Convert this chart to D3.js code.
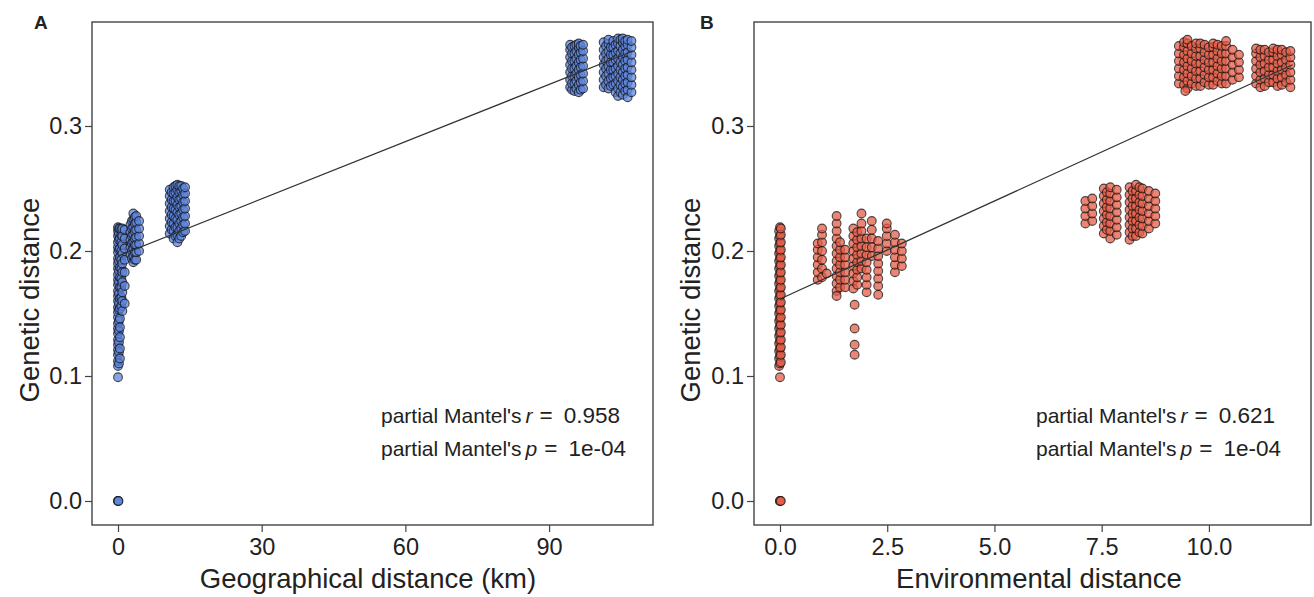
<!DOCTYPE html>
<html>
<head>
<meta charset="utf-8">
<script src="https://cdn.jsdelivr.net/npm/d3@7"></script>
<style>
  body { margin: 0; background: #fff; }
  text { font-family: "Liberation Sans", Arial, sans-serif; fill: #222; }
</style>
</head>
<body>
<div id="chart"></div>
<script>
// Figure size
var svgWidth = 1314;
var svgHeight = 597;

// Tick labels
var yTicks = [0, 0.1, 0.2, 0.3];
var geoTicks = [0, 30, 60, 90];
var envTicks = [0, 2.5, 5, 7.5, 10];

// Panel A: geographical distance (km) vs genetic distance, read column by column
// each entry: [x, [y values stacked at that x]]
var geoNear = [
  [0.0, [0.108, 0.112, 0.117, 0.121, 0.125, 0.129, 0.134, 0.138, 0.142, 0.147, 0.151, 0.155, 0.160, 0.164, 0.168, 0.173, 0.177, 0.181, 0.186, 0.190, 0.194, 0.199, 0.203, 0.207, 0.212, 0.216, 0.219]],
  [0.2, [0.110, 0.119, 0.127, 0.136, 0.144, 0.153, 0.158, 0.166, 0.175, 0.184, 0.192, 0.201, 0.209, 0.214, 0.218]],
  [0.4, [0.114, 0.122, 0.131, 0.139, 0.146, 0.154, 0.162, 0.171, 0.179, 0.187, 0.195, 0.202, 0.210, 0.218]],
  [0.7, [0.156, 0.163, 0.171, 0.178, 0.186, 0.193, 0.200, 0.207, 0.213, 0.217]],
  [0.9, [0.152, 0.160, 0.167, 0.175, 0.183, 0.190, 0.198, 0.205, 0.212, 0.218]],
  [1.4, [0.158, 0.172, 0.183, 0.193, 0.202, 0.210, 0.217]]
];
var geoNear2 = [
  [2.6, [0.197, 0.203, 0.209, 0.215, 0.221]],
  [2.9, [0.194, 0.200, 0.206, 0.212, 0.218, 0.224]],
  [3.2, [0.191, 0.196, 0.202, 0.207, 0.213, 0.219, 0.225, 0.230]],
  [3.5, [0.193, 0.199, 0.205, 0.210, 0.216, 0.222, 0.227]],
  [3.8, [0.193, 0.199, 0.205, 0.211, 0.217, 0.223, 0.228]],
  [4.4, [0.200, 0.206, 0.212, 0.218, 0.224]]
];
var geoMid = [
  [10.8, [0.214, 0.220, 0.226, 0.232, 0.238, 0.244, 0.249]],
  [11.2, [0.217, 0.223, 0.229, 0.235, 0.241, 0.247]],
  [11.6, [0.210, 0.216, 0.222, 0.228, 0.234, 0.240, 0.246, 0.251]],
  [12.0, [0.212, 0.219, 0.226, 0.233, 0.240, 0.247, 0.252]],
  [12.4, [0.207, 0.213, 0.219, 0.225, 0.231, 0.237, 0.243, 0.249, 0.253]],
  [12.8, [0.210, 0.216, 0.222, 0.229, 0.235, 0.241, 0.247, 0.252]],
  [13.2, [0.212, 0.218, 0.224, 0.230, 0.236, 0.242, 0.248, 0.252]],
  [13.6, [0.215, 0.221, 0.227, 0.233, 0.239, 0.245, 0.250]],
  [14.0, [0.216, 0.222, 0.228, 0.234, 0.240, 0.246, 0.251]]
];
var geoFar1 = [
  [94.4, [0.331, 0.337, 0.343, 0.349, 0.355, 0.361, 0.365]],
  [94.8, [0.329, 0.334, 0.340, 0.346, 0.352, 0.358, 0.363]],
  [95.3, [0.328, 0.334, 0.340, 0.346, 0.352, 0.358, 0.364]],
  [95.7, [0.330, 0.336, 0.342, 0.348, 0.354, 0.360, 0.365]],
  [96.2, [0.327, 0.333, 0.339, 0.345, 0.351, 0.357, 0.363, 0.366]],
  [96.6, [0.329, 0.335, 0.341, 0.347, 0.353, 0.359, 0.364]],
  [97.1, [0.330, 0.336, 0.342, 0.348, 0.354, 0.360, 0.365]]
];
var geoFar2 = [
  [101.4, [0.331, 0.337, 0.343, 0.349, 0.355, 0.361, 0.367]],
  [101.9, [0.333, 0.340, 0.346, 0.352, 0.358, 0.364]],
  [102.4, [0.330, 0.336, 0.342, 0.348, 0.354, 0.360, 0.366, 0.369]],
  [102.9, [0.332, 0.338, 0.345, 0.351, 0.357, 0.363]],
  [103.4, [0.333, 0.339, 0.345, 0.351, 0.357, 0.363, 0.368]],
  [103.9, [0.327, 0.334, 0.340, 0.346, 0.353, 0.359, 0.365]],
  [104.4, [0.324, 0.330, 0.336, 0.342, 0.348, 0.354, 0.360, 0.366, 0.370]],
  [104.9, [0.327, 0.333, 0.339, 0.345, 0.351, 0.358, 0.364, 0.369]],
  [105.4, [0.325, 0.331, 0.337, 0.343, 0.349, 0.355, 0.361, 0.367, 0.370]],
  [105.9, [0.328, 0.334, 0.340, 0.346, 0.352, 0.358, 0.364, 0.368]],
  [106.4, [0.323, 0.329, 0.335, 0.341, 0.347, 0.353, 0.359, 0.365, 0.369]],
  [107.2, [0.327, 0.333, 0.339, 0.345, 0.351, 0.357, 0.363, 0.368]]
];
var geoSingles = [[0.0, 0.099], [0.0, 0.0], [0.0, 0.0], [0.1, 0.0]];
var geoFit = [[0, 0.196], [107.3, 0.3596]];

// Panel B: environmental distance vs genetic distance
var envZero = [
  [-0.02, [0.108, 0.114, 0.120, 0.126, 0.132, 0.138, 0.144, 0.150, 0.156, 0.162, 0.168, 0.174, 0.180, 0.186, 0.192, 0.198, 0.204, 0.210, 0.216]],
  [0.0, [0.110, 0.116, 0.122, 0.128, 0.134, 0.140, 0.146, 0.152, 0.158, 0.164, 0.170, 0.176, 0.182, 0.188, 0.194, 0.200, 0.206, 0.212, 0.219]],
  [0.02, [0.111, 0.117, 0.123, 0.129, 0.135, 0.141, 0.147, 0.153, 0.159, 0.165, 0.171, 0.177, 0.183, 0.189, 0.195, 0.201, 0.207, 0.213, 0.218]]
];
var envLow = [
  [0.88, [0.177, 0.183, 0.189, 0.195, 0.201, 0.206]],
  [0.98, [0.179, 0.186, 0.193, 0.200, 0.207, 0.213, 0.218]],
  [1.32, [0.168, 0.174, 0.180, 0.186, 0.192, 0.198, 0.204, 0.210, 0.216, 0.222, 0.228]],
  [1.40, [0.171, 0.177, 0.183, 0.189, 0.195, 0.201, 0.207]],
  [1.52, [0.171, 0.177, 0.183, 0.189, 0.195, 0.201]],
  [1.71, [0.170, 0.176, 0.182, 0.188, 0.194, 0.200, 0.206, 0.212, 0.218]],
  [1.80, [0.173, 0.179, 0.185, 0.191, 0.197, 0.203, 0.209, 0.215]],
  [1.90, [0.186, 0.192, 0.198, 0.204, 0.210, 0.216, 0.222]],
  [2.02, [0.167, 0.173, 0.179, 0.185, 0.191, 0.197, 0.203, 0.210]],
  [2.14, [0.196, 0.203, 0.210, 0.217, 0.224]],
  [2.29, [0.172, 0.178, 0.184, 0.190, 0.196, 0.202, 0.208]],
  [2.49, [0.200, 0.206, 0.212, 0.218, 0.222]],
  [2.68, [0.183, 0.189, 0.195, 0.201, 0.207, 0.213]],
  [2.84, [0.188, 0.194, 0.200, 0.206]]
];
var envMid = [
  [7.12, [0.222, 0.228, 0.234, 0.240]],
  [7.28, [0.224, 0.230, 0.236, 0.242]],
  [7.55, [0.214, 0.220, 0.226, 0.232, 0.238, 0.244, 0.250]],
  [7.62, [0.217, 0.223, 0.229, 0.235, 0.241, 0.247]],
  [7.70, [0.210, 0.216, 0.222, 0.228, 0.234, 0.240, 0.246, 0.251]],
  [7.85, [0.213, 0.219, 0.225, 0.231, 0.237, 0.243, 0.249]],
  [8.15, [0.209, 0.215, 0.221, 0.227, 0.233, 0.239, 0.245, 0.251]],
  [8.22, [0.212, 0.218, 0.224, 0.230, 0.236, 0.242, 0.248]],
  [8.30, [0.212, 0.218, 0.224, 0.230, 0.236, 0.242, 0.248, 0.253]],
  [8.38, [0.215, 0.221, 0.227, 0.233, 0.239, 0.245, 0.251]],
  [8.45, [0.214, 0.220, 0.226, 0.232, 0.238, 0.244, 0.250]],
  [8.60, [0.218, 0.224, 0.230, 0.236, 0.242, 0.248]],
  [8.75, [0.222, 0.228, 0.234, 0.240, 0.246]]
];
var envFar1 = [
  [9.30, [0.334, 0.340, 0.346, 0.352, 0.358, 0.364]],
  [9.42, [0.333, 0.339, 0.345, 0.351, 0.357, 0.363, 0.367]],
  [9.50, [0.330, 0.336, 0.342, 0.348, 0.354, 0.360, 0.366, 0.369]],
  [9.60, [0.334, 0.340, 0.346, 0.352, 0.358, 0.364]],
  [9.70, [0.332, 0.338, 0.344, 0.350, 0.356, 0.362, 0.366]],
  [9.80, [0.332, 0.338, 0.344, 0.350, 0.356, 0.362, 0.366]],
  [9.90, [0.335, 0.341, 0.347, 0.353, 0.359, 0.365]],
  [10.00, [0.333, 0.339, 0.345, 0.351, 0.357, 0.363]],
  [10.10, [0.333, 0.339, 0.345, 0.351, 0.357, 0.363, 0.366]],
  [10.20, [0.336, 0.342, 0.348, 0.354, 0.360, 0.365]],
  [10.30, [0.334, 0.340, 0.346, 0.352, 0.358, 0.364]],
  [10.40, [0.334, 0.340, 0.346, 0.352, 0.358, 0.364, 0.368]],
  [10.55, [0.337, 0.343, 0.349, 0.355, 0.361]],
  [10.70, [0.339, 0.345, 0.351, 0.357]]
];
var envFar2 = [
  [11.10, [0.334, 0.340, 0.346, 0.352, 0.358, 0.362]],
  [11.20, [0.331, 0.337, 0.343, 0.349, 0.355, 0.361]],
  [11.30, [0.332, 0.338, 0.344, 0.350, 0.356, 0.361]],
  [11.40, [0.335, 0.341, 0.347, 0.353, 0.359]],
  [11.50, [0.335, 0.341, 0.347, 0.353, 0.359, 0.362]],
  [11.60, [0.332, 0.338, 0.344, 0.350, 0.356, 0.361]],
  [11.70, [0.333, 0.339, 0.345, 0.351, 0.357, 0.361]],
  [11.80, [0.335, 0.341, 0.347, 0.353, 0.359]],
  [11.90, [0.331, 0.337, 0.343, 0.349, 0.355, 0.360]]
];
var envSingles = [[0.0, 0.099], [1.09, 0.182], [1.32, 0.164], [1.74, 0.157], [1.74, 0.138],
  [1.74, 0.125], [1.74, 0.117], [1.90, 0.230], [2.29, 0.165], [9.45, 0.328], [0.0, 0.0], [0.0, 0.0], [0.02, 0.0]];
var envFit = [[0, 0.1616], [11.95, 0.349]];

// turn [x, [ys]] columns into flat points
function flatten(cols) {
  return cols.flatMap(c => c[1].map(y => [c[0], y]));
}

var svg = d3.select("#chart")
  .append("svg")
  .attr("width", svgWidth)
  .attr("height", svgHeight);

function drawPanel(opt) {
  var g = svg.append("g");
  var x = d3.scaleLinear().domain(opt.xDomain).range([opt.left, opt.left + opt.width]);
  var y = d3.scaleLinear().domain([-0.0192, 0.3832]).range([opt.top + opt.height, opt.top]);

  // axes (box is drawn separately, so drop the domain lines)
  var yAxis = g.append("g")
    .attr("transform", `translate(${opt.left},0)`)
    .call(d3.axisLeft(y).tickValues(yTicks).tickFormat(d3.format(".1f")).tickSize(7).tickPadding(3));
  var xAxis = g.append("g")
    .attr("transform", `translate(0,${opt.top + opt.height})`)
    .call(d3.axisBottom(x).tickValues(opt.ticks).tickFormat(opt.fmt).tickSize(7).tickPadding(6));
  [yAxis, xAxis].forEach(a => {
    a.select(".domain").remove();
    a.selectAll(".tick line").attr("stroke", "#444").attr("stroke-width", 1.2);
    a.selectAll(".tick text").style("font-size", "23.5px").attr("fill", "#222")
      .style("font-family", "'Liberation Sans', Arial, sans-serif");
  });

  // points
  g.append("g").selectAll("circle").data(opt.points).enter().append("circle")
    .attr("cx", d => x(d[0]))
    .attr("cy", d => y(d[1]))
    .attr("r", 4.4)
    .attr("fill", opt.color)
    .attr("fill-opacity", 0.75)
    .attr("stroke", "#111")
    .attr("stroke-opacity", 0.72)
    .attr("stroke-width", 1.1);

  // regression line
  g.append("path")
    .datum(opt.fit)
    .attr("d", d3.line().x(d => x(d[0])).y(d => y(d[1])))
    .attr("fill", "none")
    .attr("stroke", "#333")
    .attr("stroke-width", 1.3);

  // box
  g.append("rect")
    .attr("x", opt.left).attr("y", opt.top)
    .attr("width", opt.width).attr("height", opt.height)
    .attr("fill", "none").attr("stroke", "#444").attr("stroke-width", 1.4);

  // titles
  g.append("text")
    .attr("transform", `translate(${opt.yTitleX},300) rotate(-90)`)
    .attr("text-anchor", "middle")
    .attr("dy", "0.35em")
    .style("font-size", "27.5px")
    .text("Genetic distance");
  g.append("text")
    .attr("x", opt.xTitleX).attr("y", 588)
    .attr("text-anchor", "middle")
    .style("font-size", "27.5px")
    .text(opt.xTitle);

  g.append("text")
    .attr("x", opt.labelX).attr("y", 29)
    .style("font-size", "19px").style("font-weight", "bold")
    .text(opt.label);

  // Mantel annotation
  var lines = [["r", opt.r], ["p", "1e-04"]];
  lines.forEach((l, i) => {
    var t = g.append("text")
      .attr("x", opt.annX).attr("y", 423 + i * 33)
      .style("font-size", "21px");
    t.append("tspan").text("partial Mantel's");
    t.append("tspan").attr("dx", 4).style("font-style", "italic").text(l[0]);
    t.append("tspan").attr("dx", 7).style("font-size", "22.5px").text("=");
    t.append("tspan").attr("dx", 11).style("font-size", "22.5px").text(l[1]);
  });
}

drawPanel({
  left: 92, top: 22, width: 561, height: 503,
  xDomain: [-5.43, 111.7], ticks: geoTicks, fmt: d3.format("d"),
  points: flatten(geoNear).concat(flatten(geoNear2), flatten(geoMid), flatten(geoFar1), flatten(geoFar2), geoSingles),
  fit: geoFit, color: "#5f86dc",
  yTitleX: 29, xTitleX: 368, xTitle: "Geographical distance (km)",
  label: "A", labelX: 34, annX: 381, r: "0.958"
});

drawPanel({
  left: 754, top: 22, width: 557, height: 503,
  xDomain: [-0.606, 12.38], ticks: envTicks, fmt: d3.format(".1f"),
  points: flatten(envZero).concat(flatten(envLow), flatten(envMid), flatten(envFar1), flatten(envFar2), envSingles),
  fit: envFit, color: "#e45e48",
  yTitleX: 690, xTitleX: 1039, xTitle: "Environmental distance",
  label: "B", labelX: 700, annX: 1036, r: "0.621"
});
</script>
</body>
</html>
